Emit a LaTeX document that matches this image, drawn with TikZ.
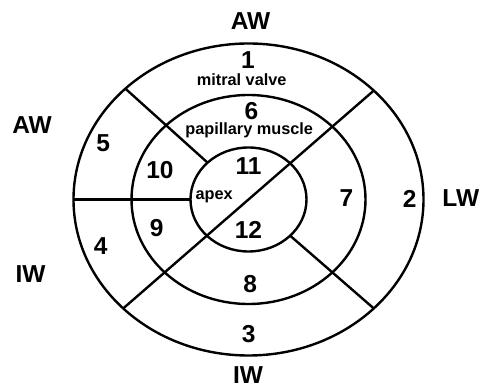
\documentclass[tikz,border=0pt]{standalone}
\usepackage{fontspec}
\setmainfont{Liberation Sans}
\usetikzlibrary{shapes.geometric}
\tikzset{
  ring/.style={draw, ellipse, inner sep=0pt, outer sep=0pt, line width=2.4pt},
  wall/.style={line width=2.4pt},
  big/.style={font=\fontsize{24.5}{24.5}\selectfont\bfseries, inner sep=0pt},
  small/.style={font=\fontsize{16.3}{16.3}\selectfont\bfseries, inner sep=0pt, anchor=base},
}
\begin{document}
\begin{tikzpicture}[x=1pt,y=1pt]
\useasboundingbox (0,0) rectangle (480,388);
% rings
\node[ring, minimum width=350pt, minimum height=312pt] (outer) at (248.5,188.5) {};
\node[ring, minimum width=234pt, minimum height=209pt] (middle) at (248.5,188.5) {};
\node[ring, minimum width=116pt, minimum height=104pt] (inner) at (248.5,188.5) {};
% dividing walls
\draw[wall] (outer.41.8) -- (outer.221.8);
\draw[wall] (outer.138.2) -- (inner.138.2);
\draw[wall] (inner.-41.8) -- (outer.-41.8);
\draw[wall] (outer.west) -- (inner.west);
% wall labels
\node[big] (awtop) at (250.5,367) {AW};
\node[big] (awleft) at (32,262.7) {AW};
\node[big] (lw) at (460.8,189.7) {LW};
\node[big] (iwleft) at (30.5,113.8) {IW};
\node[big] (iwbot) at (248,12.5) {IW};
% segment numbers
\node[big] (s1) at (248,328) {1};
\node[big] (s2) at (409.7,189.5) {2};
\node[big] (s3) at (248.8,54.3) {3};
\node[big] (s4) at (100.8,142.2) {4};
\node[big] (s5) at (103.3,244.7) {5};
\node[big] (s6) at (251.5,277) {6};
\node[big] (s7) at (346.5,189.5) {7};
\node[big] (s8) at (250.3,103.8) {8};
\node[big] (s9) at (156.7,159.7) {9};
\node[big] (s10) at (160,218) {10};
\node[big] (s11) at (248.5,222.2) {11};
\node[big] (s12) at (248.5,158) {12};
% small labels
\node[small] (mv) at (241.7,302) {mitral valve};
\node[small] (pm) at (249.2,253) {papillary muscle};
\node[small] (apex) at (214.2,188) {apex};
\end{tikzpicture}
\end{document}
